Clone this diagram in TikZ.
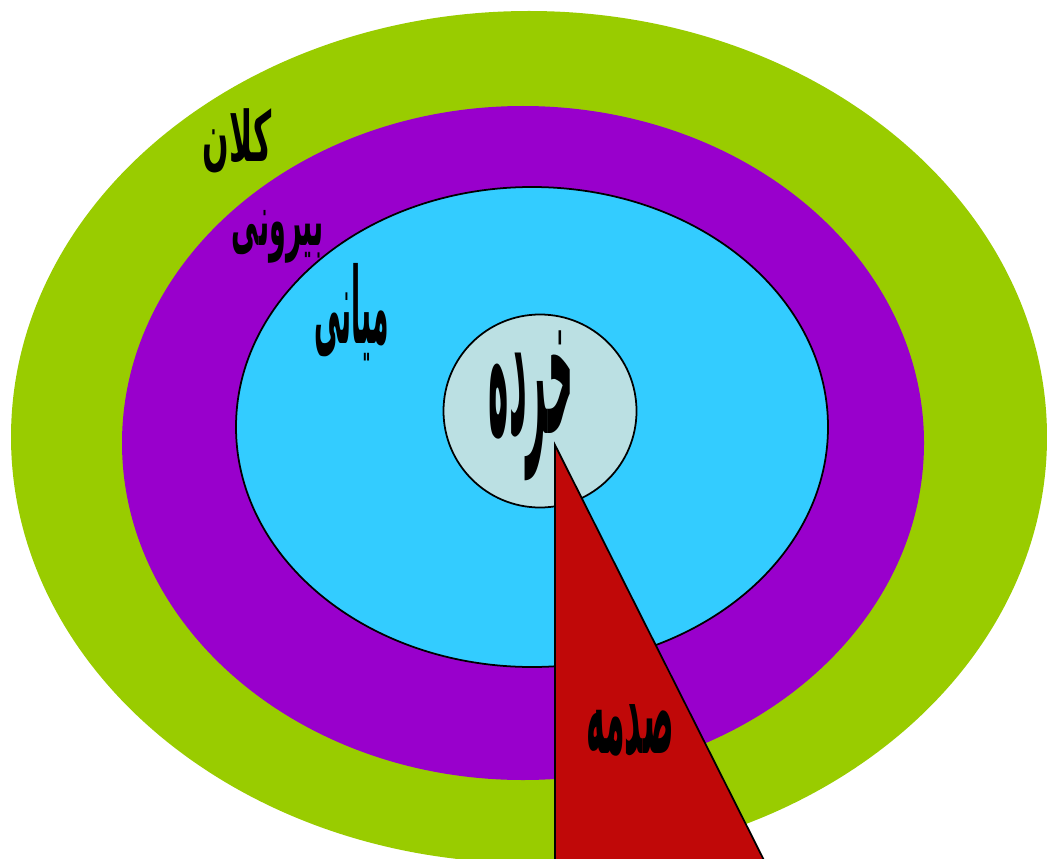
\documentclass[tikz,border=0pt]{standalone}
\usepackage{fontspec}
\usepackage{graphicx}
\usepackage{xcolor}
\TeXXeTstate=1
\newfontfamily\arabicfont[Script=Arabic]{DejaVu Sans}
\definecolor{ringgreen}{HTML}{99CC00}
\definecolor{ringpurple}{HTML}{9900CC}
\definecolor{ringcyan}{HTML}{33CCFF}
\definecolor{corefill}{HTML}{BBE0E3}
\definecolor{shockred}{HTML}{C00808}
\newcommand{\fatext}[3]{\scalebox{#1}[#2]{\arabicfont\bfseries\beginR #3\endR}}

\begin{document}
\begin{tikzpicture}[x=0.02cm, y=-0.02cm,
    word/.style={inner sep=0pt, text=black, font=\fontsize{24}{28}\selectfont},
    edge/.style={draw=black, line width=1pt}
  ]
    \useasboundingbox (0,0) rectangle (1047,858);
    % rings
    \fill[ringgreen] (529,437) ellipse [x radius=518, y radius=426];
    \fill[ringpurple] (523,443) ellipse [x radius=401, y radius=337];
    \filldraw[fill=ringcyan, edge] (532,427) ellipse [x radius=296, y radius=240];
    \filldraw[fill=corefill, edge] (540,411) circle [radius=96.5];
    % shock wedge
    \filldraw[fill=shockred, edge] (555,445) -- (555,900) -- (784,900) -- cycle;
    % labels
    \node[word] (macro) at (237,141) {\fatext{0.74}{1.65}{کلان}};
    \node[word] (outer) at (278,237) {\fatext{0.64}{1.73}{بیرونی}};
    \node[word] (meso) at (352,312) {\fatext{0.63}{2.5}{میانی}};
    \node[word] (micro) at (531,406) {\fatext{0.82}{4.6}{خرده}};
    \node[word] (shock) at (630,731) {\fatext{0.75}{2.8}{صدمه}};
\end{tikzpicture}
\end{document}
